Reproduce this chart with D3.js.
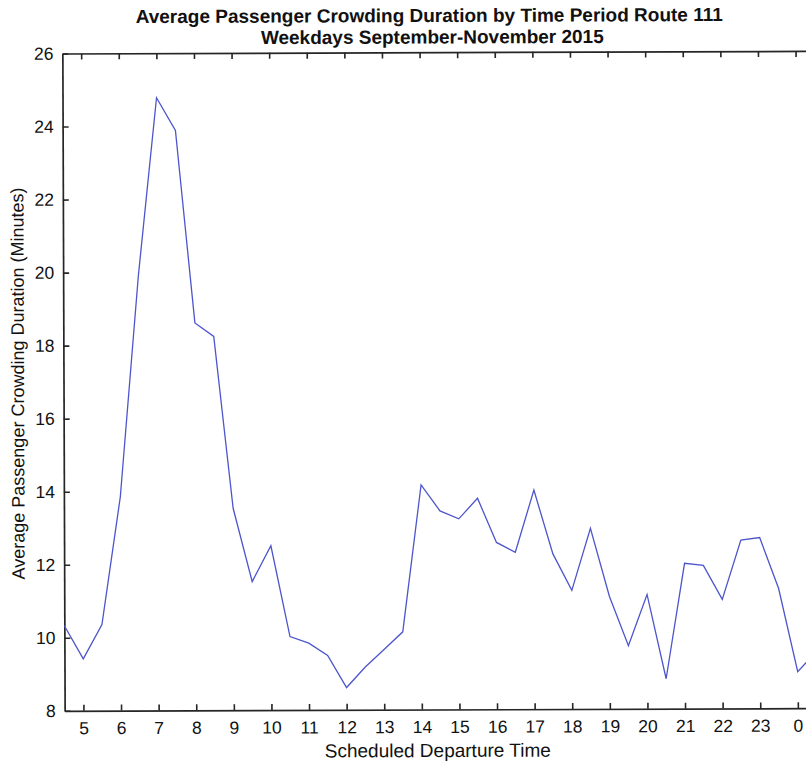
<!DOCTYPE html>
<html>
<head>
<meta charset="utf-8">
<script src="https://cdn.jsdelivr.net/npm/d3@7"></script>
<style>
  html, body { margin: 0; padding: 0; background: #fff; }
  svg { display: block; }
  text { font-family: "Liberation Sans", Arial, Helvetica, sans-serif; fill: #111; }
</style>
</head>
<body>
<svg id="chart" width="806" height="763"></svg>
<script>
// Scheduled departure times (hours; 24 = midnight) and mean crowding duration (minutes)
const departureTimes = [4.5, 5, 5.5, 6, 6.5, 7, 7.5, 8, 8.5, 9, 9.5, 10, 10.5, 11, 11.5, 12,
  12.5, 13, 13.5, 14, 14.5, 15, 15.5, 16, 16.5, 17, 17.5, 18, 18.5, 19, 19.5, 20,
  20.5, 21, 21.5, 22, 22.5, 23, 23.5, 24, 24.5];
const crowdingMinutes = [10.33, 9.42, 10.36, 13.85, 19.9, 24.78, 23.88, 18.61, 18.24, 13.53,
  11.52, 12.50, 10.01, 9.83, 9.49, 8.61, 9.17, 9.65, 10.13, 14.15, 13.44, 13.22, 13.78,
  12.57, 12.30, 14.00, 12.25, 11.25, 12.95, 11.08, 9.73, 11.13, 8.82, 11.98, 11.92,
  10.99, 12.61, 12.68, 11.28, 9.00, 9.55];

const xTickValues = [5, 6, 7, 8, 9, 10, 11, 12, 13, 14, 15, 16, 17, 18, 19, 20, 21, 22, 23, 24];
const xTickLabels = ["5", "6", "7", "8", "9", "10", "11", "12", "13", "14", "15", "16",
  "17", "18", "19", "20", "21", "22", "23", "0"];
const yTickValues = [8, 10, 12, 14, 16, 18, 20, 22, 24, 26];

const titleLines = ["Average Passenger Crowding Duration by Time Period Route 111",
  "Weekdays September-November 2015"];
const xAxisTitle = "Scheduled Departure Time";
const yAxisTitle = "Average Passenger Crowding Duration (Minutes)";

const svg = d3.select("#chart");
const plot = { left: 63.5, right: 815.5, top: 52.2, bottom: 709.5 };
const cx = (plot.left + plot.right) / 2, cy = (plot.top + plot.bottom) / 2;

// the whole figure sits at a very slight tilt
const g = svg.append("g").attr("transform", `rotate(-0.2, ${cx}, ${cy})`);

const x = d3.scaleLinear().domain([4.5, 24.5]).range([plot.left, plot.right]);
const y = d3.scaleLinear().domain([8, 26]).range([plot.bottom, plot.top]);

const axisColor = "#262626";
const tickLen = 6;
const labelById = new Map(xTickValues.map((v, i) => [v, xTickLabels[i]]));

// bottom axis with inward ticks
const axisB = g.append("g").attr("transform", `translate(0,${plot.bottom})`)
  .call(d3.axisBottom(x).tickValues(xTickValues).tickSizeInner(-tickLen).tickSizeOuter(0)
    .tickPadding(11).tickFormat(d => labelById.get(d)));
// top axis, ticks only
const axisT = g.append("g").attr("transform", `translate(0,${plot.top})`)
  .call(d3.axisTop(x).tickValues(xTickValues).tickSizeInner(-tickLen).tickSizeOuter(0)
    .tickFormat(""));
// left axis with inward ticks
const axisL = g.append("g").attr("transform", `translate(${plot.left},0)`)
  .call(d3.axisLeft(y).tickValues(yTickValues).tickSizeInner(-tickLen).tickSizeOuter(0)
    .tickPadding(9).tickFormat(d3.format("d")));
// right axis, ticks only
const axisR = g.append("g").attr("transform", `translate(${plot.right},0)`)
  .call(d3.axisRight(y).tickValues(yTickValues).tickSizeInner(-tickLen).tickSizeOuter(0)
    .tickFormat(""));

[axisB, axisT, axisL, axisR].forEach(a => {
  a.select(".domain").attr("stroke", axisColor).attr("stroke-width", 1.7);
  a.selectAll(".tick line").attr("stroke", axisColor).attr("stroke-width", 1.6);
  a.selectAll(".tick text").attr("fill", "#111")
    .style("font-family", '"Liberation Sans", Arial, sans-serif').style("font-size", "17.5px");
});

// data line
const line = d3.line().x((d, i) => x(departureTimes[i])).y(d => y(d));
g.append("path").datum(crowdingMinutes)
  .attr("d", line)
  .attr("fill", "none")
  .attr("stroke", "#4d55cc")
  .attr("stroke-width", 1.3)
  .attr("stroke-linejoin", "miter");

// titles
g.append("text").attr("x", 430.5).attr("y", 22).attr("text-anchor", "middle")
  .style("font-weight", "bold").style("font-size", "19px").text(titleLines[0]);
g.append("text").attr("x", 433.5).attr("y", 43.5).attr("text-anchor", "middle")
  .style("font-weight", "bold").style("font-size", "19px").text(titleLines[1]);

g.append("text").attr("x", 436.5).attr("y", 757).attr("text-anchor", "middle")
  .style("font-size", "19px").text(xAxisTitle);

g.append("text").attr("transform", `translate(24,382) rotate(-90)`).attr("text-anchor", "middle")
  .style("font-size", "18px").text(yAxisTitle);
</script>
</body>
</html>
